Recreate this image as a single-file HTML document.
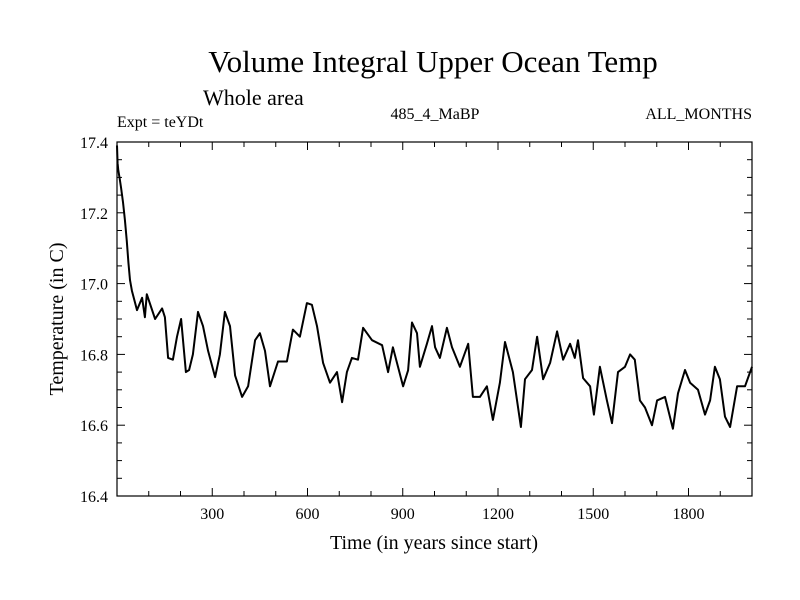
<!DOCTYPE html>
<html><head><meta charset="utf-8"><style>
html,body{margin:0;padding:0;background:#fff;}
svg{display:block;font-family:"Liberation Serif",serif;}
</style></head><body>
<svg id="chart" width="800" height="600" xmlns="http://www.w3.org/2000/svg">
<text x="433" y="72" font-size="31" text-anchor="middle">Volume Integral Upper Ocean Temp</text>
<text x="203" y="105" font-size="22">Whole area</text>
<text x="117" y="127" font-size="16">Expt = teYDt</text>
<text x="435" y="119" font-size="16" text-anchor="middle">485_4_MaBP</text>
<text x="752" y="119" font-size="16" text-anchor="end">ALL_MONTHS</text>
<text transform="translate(63,319) rotate(-90)" font-size="20" text-anchor="middle">Temperature (in C)</text>
<text x="434" y="549" font-size="20" text-anchor="middle">Time (in years since start)</text>
<g id="axes"></g>
<g id="series"></g>
</svg>
<script>
const years=[0,2,4,8,13,19,25,31,36,41,47,63,79,88,94,120,142,151,161,176,189,202,217,227,239,255,271,287,309,324,340,356,372,394,413,435,450,466,482,507,535,554,576,598,614,630,649,671,693,709,724,740,759,775,803,835,854,869,885,901,917,929,945,954,976,992,1002,1017,1039,1055,1080,1106,1121,1143,1165,1184,1206,1222,1247,1272,1285,1307,1323,1342,1364,1386,1405,1427,1442,1452,1468,1490,1502,1521,1543,1559,1578,1600,1616,1631,1647,1663,1685,1701,1726,1751,1767,1789,1805,1830,1852,1868,1883,1899,1915,1931,1953,1978,2000];
const temps=[17.39,17.34,17.32,17.30,17.27,17.23,17.18,17.12,17.06,17.01,16.98,16.925,16.96,16.905,16.97,16.90,16.93,16.905,16.79,16.785,16.85,16.90,16.75,16.756,16.80,16.92,16.88,16.81,16.736,16.80,16.92,16.88,16.74,16.68,16.71,16.84,16.86,16.81,16.71,16.78,16.78,16.87,16.85,16.945,16.94,16.88,16.776,16.72,16.75,16.665,16.75,16.79,16.785,16.875,16.84,16.826,16.75,16.82,16.765,16.71,16.755,16.89,16.86,16.765,16.83,16.88,16.82,16.79,16.875,16.82,16.765,16.83,16.68,16.68,16.71,16.615,16.72,16.835,16.75,16.595,16.73,16.756,16.85,16.73,16.776,16.865,16.785,16.83,16.79,16.84,16.733,16.71,16.63,16.765,16.67,16.606,16.75,16.765,16.80,16.785,16.67,16.65,16.60,16.67,16.68,16.59,16.69,16.756,16.72,16.70,16.63,16.67,16.765,16.73,16.624,16.595,16.71,16.71,16.765];
const xTickLabels=[300,600,900,1200,1500,1800];
const yTickLabels=["16.4","16.6","16.8","17.0","17.2","17.4"];
const L=117,R=752,T=142,B=496,X0=0,X1=2000,Y0=16.4,Y1=17.4;
const xs=v=>L+(v-X0)/(X1-X0)*(R-L);
const ys=v=>B-(v-Y0)/(Y1-Y0)*(B-T);
const NS="http://www.w3.org/2000/svg";
const axes=document.getElementById('axes');
function mk(tag,attrs,parent){const e=document.createElementNS(NS,tag);for(const k in attrs)e.setAttribute(k,attrs[k]);parent.appendChild(e);return e;}
const frame=mk('rect',{x:L,y:T,width:R-L,height:B-T,fill:'none',stroke:'#000','stroke-width':1.2},axes);


for(let v=100;v<2000;v+=100){
  const major=v%300===0,len=major?8:5,x=xs(v);
  mk('line',{x1:x,x2:x,y1:B,y2:B-len,stroke:'#000'},axes);
  mk('line',{x1:x,x2:x,y1:T,y2:T+len,stroke:'#000'},axes);
}
xTickLabels.forEach(v=>{
  const t=mk('text',{x:xs(v),y:B+23,'font-size':16,'text-anchor':'middle'},axes);
  t.textContent=v;
  
  
});
for(let i=1;i<20;i++){
  const v=Y0+i*0.05,major=i%4===0,len=major?8:5,y=ys(v);
  mk('line',{x1:L,x2:L+len,y1:y,y2:y,stroke:'#000'},axes);
  mk('line',{x1:R,x2:R-len,y1:y,y2:y,stroke:'#000'},axes);
}
yTickLabels.forEach(s=>{
  const t=mk('text',{x:L-9,y:ys(parseFloat(s))+6,'font-size':16,'text-anchor':'end'},axes);
  t.textContent=s;
  
  
});
const d=years.map((y,i)=>(i?'L':'M')+xs(y).toFixed(1)+','+ys(temps[i]).toFixed(1)).join(' ');
const path=mk('path',{d:d,fill:'none',stroke:'#000','stroke-width':2,'stroke-linejoin':'round'},document.getElementById('series'));


</script>
</body></html>
